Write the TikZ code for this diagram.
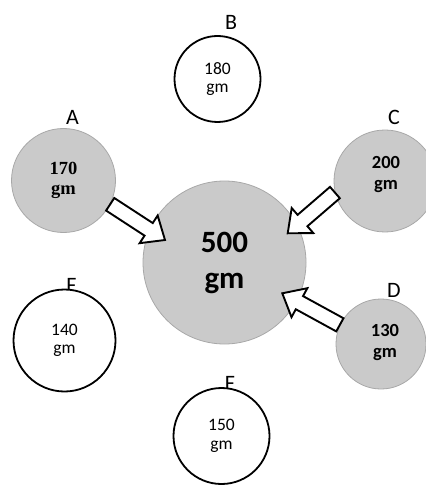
\documentclass[tikz,border=0pt]{standalone}
\usepackage{fontspec}
\setmainfont{Carlito}
\newfontfamily\serifnum{Liberation Serif}
\usetikzlibrary{calc}

\definecolor{ballgray}{RGB}{202,202,202}
\definecolor{ringgray}{RGB}{168,168,168}

% block arrow geometry (pt): half shaft width, half head width, head length
\def\shaft{7.5}
\def\headw{16.5}
\def\headlen{19.5}

% hollow block arrow from #1 (tail) to #2 (tip)
\newcommand\blockarrow[2]{%
  \filldraw[blockarr] let \p1=(#1), \p2=(#2),
    \n1={veclen(\x2-\x1,\y2-\y1)}, \n2={(\x2-\x1)/\n1}, \n3={(\y2-\y1)/\n1},
    \n4={\n1-\headlen}
  in ({\x1-\shaft*\n3},{\y1+\shaft*\n2})
  -- ({\x1+\n4*\n2-\shaft*\n3},{\y1+\n4*\n3+\shaft*\n2})
  -- ({\x1+\n4*\n2-\headw*\n3},{\y1+\n4*\n3+\headw*\n2})
  -- (\p2)
  -- ({\x1+\n4*\n2+\headw*\n3},{\y1+\n4*\n3-\headw*\n2})
  -- ({\x1+\n4*\n2+\shaft*\n3},{\y1+\n4*\n3-\shaft*\n2})
  -- ({\x1+\shaft*\n3},{\y1-\shaft*\n2}) -- cycle;}

\tikzset{
  lettr/.style={font=\fontsize{22}{22}\selectfont, anchor=base, inner sep=0pt},
  plainball/.style={circle, draw=black, line width=1.8pt, fill=white, inner sep=0pt,
    align=center, font=\fontsize{17.5}{18.5}\selectfont},
  grayball/.style={circle, draw=ringgray, line width=0.8pt, fill=ballgray, inner sep=0pt,
    align=center},
  boldnum/.style={align=center, inner sep=0pt, font=\bfseries\fontsize{18.5}{21}\selectfont},
  blockarr/.style={draw=black, line width=1.9pt, fill=white, line join=miter},
}

\begin{document}
\begin{tikzpicture}[x=1pt, y=-1pt]
  \useasboundingbox (0,0) rectangle (425,486);

  % letters sitting on top of each weight
  \node[lettr] (lA) at (72.5,125) {A};
  \node[lettr] (lB) at (231,30) {B};
  \node[lettr] (lC) at (394,125) {C};
  \node[lettr] (lD) at (394,297) {D};
  \node[lettr] (lE) at (71.5,292) {F};
  \node[lettr] (lF) at (230,390) {F};

  % outer weights
  \node[plainball, minimum size=86pt] (B) at (217.5,79) {180\\gm};
  \node[plainball, minimum size=102pt] (E) at (64.5,340.5) {140\\gm};
  \node[plainball, minimum size=96pt] (F) at (221.5,436) {150\\gm};
  \node[grayball, minimum size=104pt, font=\serifnum\bfseries\fontsize{18.5}{20}\selectfont]
    (A) at (63.5,180.5) {170\\gm};
  \node[grayball, minimum size=102pt] (C) at (385,181) {};
  \node[boldnum] (Ct) at ($(C)+(1,-6)$) {200\\gm};
  \node[grayball, minimum size=90pt] (D) at (381,344) {};
  \node[boldnum] (Dt) at ($(D)+(4,-2)$) {130\\gm};

  % central total
  \node[grayball, minimum size=163pt, font=\bfseries\fontsize{31}{36}\selectfont]
    (M) at (224.5,262.5) {500\\gm};

  % arrow tips inside the central circle
  \coordinate (tipA) at ($(M)+(-59.5,-22.5)$);
  \coordinate (tipC) at ($(M)+(63.2,-29.2)$);
  \coordinate (tipD) at ($(M)+(57.8,30.8)$);

  \blockarrow{A.-27}{tipA}
  \blockarrow{C.193}{tipC}
  \blockarrow{D.155}{tipD}
\end{tikzpicture}
\end{document}
